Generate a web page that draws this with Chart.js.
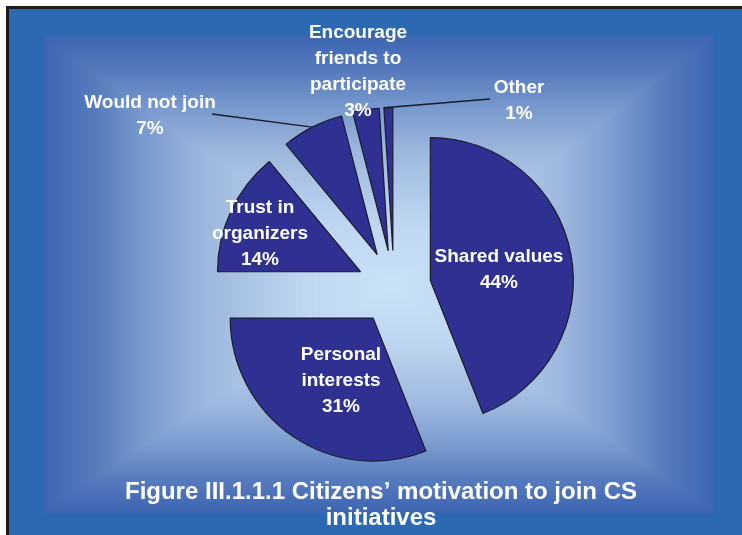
<!DOCTYPE html>
<html>
<head>
<meta charset="utf-8">
<title>Citizens' motivation to join CS initiatives</title>
<script src="https://cdn.jsdelivr.net/npm/chart.js@4.4.0/dist/chart.umd.min.js"></script>
<style>
  html, body { margin: 0; padding: 0; background: #fff; }
  canvas { display: block; }
</style>
</head>
<body>
<canvas id="motivationChart" width="742" height="535"></canvas>
<script>
// slice labels (one entry per line) and their shares in percent
const categories = [
  ["Shared values"],
  ["Personal", "interests"],
  ["Trust in", "organizers"],
  ["Would not join"],
  ["Encourage", "friends to", "participate"],
  ["Other"]
];
const shares = [44, 31, 14, 7, 3, 1];
const titleLines = ["Figure III.1.1.1 Citizens\u2019 motivation to join CS", "initiatives"];

// where each label block sits: centre x, first baseline y, optional leader start
const labelSpots = [
  { x: 499, y: 262 },
  { x: 341, y: 360 },
  { x: 260, y: 213 },
  { x: 150, y: 108, leader: [212, 114] },
  { x: 358, y: 38 },
  { x: 519, y: 93, leader: [490, 99] }
];

const EXPLODE = 37;      // how far every slice is pulled out from the centre
const LINE_H = 26;
const FONT = '"Liberation Sans", Arial, sans-serif';

// colour ramp of the backdrop, 0 = centre, 1 = edge of the inner panel
const rampStops = [
  [0, [202, 226, 246]],
  [0.25, [190, 214, 240]],
  [0.53, [158, 184, 222]],
  [0.71, [120, 154, 206]],
  [0.85, [88, 124, 190]],
  [1, [62, 102, 178]]
];
const rampColor = t => {
  for (let i = 1; i < rampStops.length; i++) {
    const [o1, c1] = rampStops[i - 1];
    const [o2, c2] = rampStops[i];
    if (t <= o2) {
      const f = (t - o1) / (o2 - o1);
      const c = c1.map((v, k) => Math.round(v + (c2[k] - v) * f));
      return `rgb(${c[0]},${c[1]},${c[2]})`;
    }
  }
  const c = rampStops[rampStops.length - 1][1];
  return `rgb(${c[0]},${c[1]},${c[2]})`;
};

// --- framed background with the rectangular "from centre" gradient ---
const backdropPlugin = {
  id: 'backdrop',
  beforeDraw(chart) {
    const ctx = chart.ctx;
    const W = chart.width, H = chart.height;
    ctx.save();
    ctx.fillStyle = '#ffffff';
    ctx.fillRect(0, 0, W, H);
    ctx.fillStyle = '#1b1b1b';
    ctx.fillRect(6, 6, W - 6, H - 6);
    ctx.fillStyle = '#2b6ab2';
    ctx.fillRect(9, 9, W - 9, H - 9);

    // concentric rectangles, outermost first
    const L = 43, T = 35, R = 713, B = 513;
    const cx = 390, cy = 285;
    const steps = 340;
    for (let s = steps; s >= 0; s--) {
      const t = s / steps;
      ctx.fillStyle = rampColor(t);
      const x0 = cx - t * (cx - L), x1 = cx + t * (R - cx);
      const y0 = cy - t * (cy - T), y1 = cy + t * (B - cy);
      ctx.fillRect(x0, y0, x1 - x0, y1 - y0);
    }
    ctx.restore();
  }
};

// --- pull each slice out along its middle angle ---
const explodePlugin = {
  id: 'explode',
  afterUpdate(chart) {
    chart.getDatasetMeta(0).data.forEach(arc => {
      const mid = (arc.startAngle + arc.endAngle) / 2;
      arc.x += Math.cos(mid) * EXPLODE;
      arc.y += Math.sin(mid) * EXPLODE;
    });
  }
};

// --- slice labels, leader lines and the figure caption ---
const labelPlugin = {
  id: 'sliceLabels',
  afterDatasetsDraw(chart) {
    const ctx = chart.ctx;
    const arcs = chart.getDatasetMeta(0).data;
    ctx.save();

    // leaders run from the label to the start corner of small slices
    ctx.strokeStyle = '#1c1c2a';
    ctx.lineWidth = 1.5;
    arcs.forEach((arc, i) => {
      const spot = labelSpots[i];
      if (!spot.leader) return;
      const a = i === arcs.length - 1 ? arc.startAngle : (arc.startAngle + arc.endAngle) / 2;
      ctx.beginPath();
      ctx.moveTo(spot.leader[0], spot.leader[1]);
      ctx.lineTo(arc.x + Math.cos(a) * arc.outerRadius, arc.y + Math.sin(a) * arc.outerRadius);
      ctx.stroke();
    });

    ctx.fillStyle = '#ffffff';
    ctx.textAlign = 'center';
    ctx.textBaseline = 'alphabetic';
    ctx.font = 'bold 19px ' + FONT;
    categories.forEach((lines, i) => {
      const spot = labelSpots[i];
      const all = lines.concat([shares[i] + '%']);
      all.forEach((t, k) => ctx.fillText(t, spot.x, spot.y + k * LINE_H));
    });

    ctx.font = 'bold 24px ' + FONT;
    titleLines.forEach((t, k) => ctx.fillText(t, 381, 499 + k * 26));
    ctx.restore();
  }
};

const ctx = document.getElementById('motivationChart');

new Chart(ctx, {
  type: 'pie',
  data: {
    labels: categories.map(l => l.join(' ')),
    datasets: [{
      data: shares,
      backgroundColor: '#2e3192',
      borderColor: '#1c1c2a',
      borderWidth: 1.2,
      radius: 143
    }]
  },
  options: {
    responsive: false,
    animation: false,
    events: [],
    layout: { padding: { left: 200, right: 154, top: 100, bottom: 60 } },
    plugins: {
      legend: { display: false },
      tooltip: { enabled: false }
    }
  },
  plugins: [backdropPlugin, explodePlugin, labelPlugin]
});
</script>
</body>
</html>
